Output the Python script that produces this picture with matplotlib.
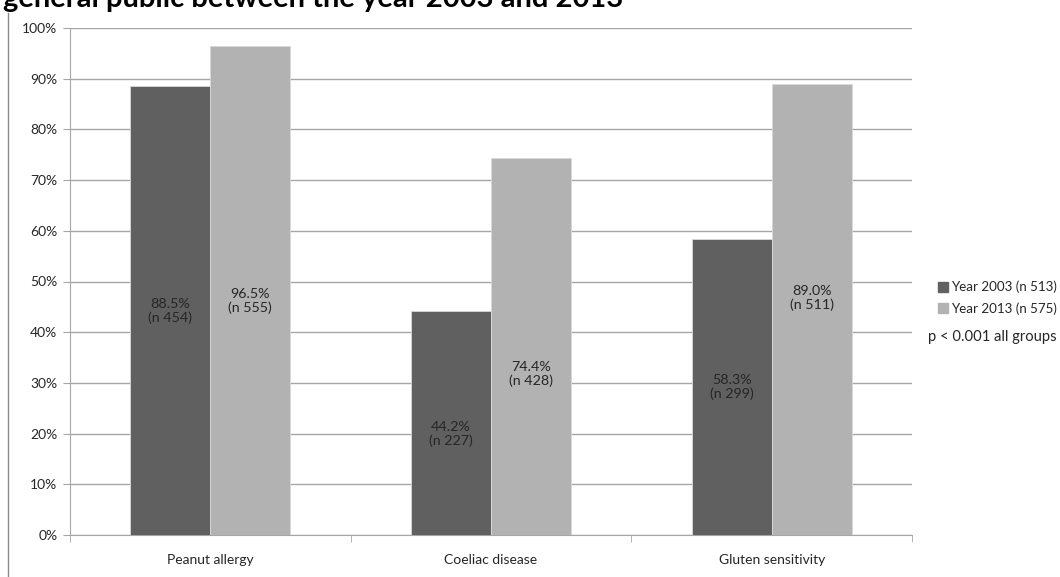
import matplotlib.pyplot as plt
import matplotlib.ticker as mticker
from matplotlib.lines import Line2D
import numpy as np

plt.rcParams["font.family"] = ["Lato", "DejaVu Sans"]

# --- Data ---
CATEGORIES = ["Peanut allergy", "Coeliac disease", "Gluten sensitivity"]
YEAR_2003 = [88.5, 44.2, 58.3]
YEAR_2013 = [96.5, 74.4, 89.0]
N_2003 = [454, 227, 299]
N_2013 = [555, 428, 511]
SERIES_LABELS = ["Year 2003 (n 513)", "Year 2013 (n 575)"]
NOTE = "p < 0.001 all groups"
TITLE = "general public between the year 2003 and 2013"

# label heights (data units) as placed in the original
LABEL_Y_2003 = [44.2, 19.9, 29.2]
LABEL_Y_2013 = [46.2, 31.8, 46.7]

DARK = "#606060"
LIGHT = "#b2b2b2"
GRID = "#a6a6a6"
TEXT = "#262626"

W, H = 1060, 577
fig = plt.figure(figsize=(W / 100, H / 100), dpi=100)
ax = fig.add_axes([70 / W, 1 - 535 / H, 842 / W, 507 / H])

x = np.arange(len(CATEGORIES))
width = 0.285
ax.bar(x - width / 2, YEAR_2003, width, color=DARK, edgecolor="#d9d9d9",
       linewidth=0.6, zorder=3)
ax.bar(x + width / 2, YEAR_2013, width, color=LIGHT, edgecolor="#d9d9d9",
       linewidth=0.6, zorder=3)

for i in range(len(CATEGORIES)):
    ax.text(x[i] - width / 2, LABEL_Y_2003[i], f"{YEAR_2003[i]:.1f}%\n(n {N_2003[i]})",
            ha="center", va="center", fontsize=10.3, color=TEXT, zorder=4,
            linespacing=1.15)
    ax.text(x[i] + width / 2, LABEL_Y_2013[i], f"{YEAR_2013[i]:.1f}%\n(n {N_2013[i]})",
            ha="center", va="center", fontsize=10.3, color=TEXT, zorder=4,
            linespacing=1.15)

ax.set_xlim(-0.5, len(CATEGORIES) - 0.5)
ax.set_ylim(0, 100)
ax.yaxis.set_major_locator(mticker.MultipleLocator(10))
ax.yaxis.set_major_formatter(mticker.FuncFormatter(lambda v, p: f"{v:.0f}%"))
ax.set_xticks(x)
ax.set_xticklabels(CATEGORIES)
ax.xaxis.set_minor_locator(mticker.FixedLocator(np.arange(-0.5, len(CATEGORIES), 1.0)))
ax.tick_params(axis="x", which="major", length=0, pad=14, labelsize=10, labelcolor=TEXT)
ax.tick_params(axis="x", which="minor", length=5, color=GRID, direction="out")
ax.tick_params(axis="y", length=5, color=GRID, labelsize=10, labelcolor=TEXT, pad=4)

ax.grid(axis="y", color=GRID, linewidth=1.0, zorder=0)
for side in ["top", "right"]:
    ax.spines[side].set_visible(False)
ax.spines["left"].set_color(GRID)
ax.spines["bottom"].set_color(GRID)

# legend
handles = [Line2D([], [], marker="s", linestyle="", markersize=7, color=c)
           for c in (DARK, LIGHT)]
fig.legend(handles, SERIES_LABELS, loc="upper left", bbox_to_anchor=(932 / W, 1 - 274 / H),
           frameon=False, fontsize=9.6, handlelength=0.6, handletextpad=0.3,
           labelspacing=0.7, borderpad=0, labelcolor=TEXT)
fig.text(928 / W, 1 - 337 / H, NOTE, fontsize=10.6, color=TEXT, va="center")

# clipped title and frame line
fig.text(3 / W, 1 - 7 / H, TITLE, fontsize=21, fontweight="bold", va="baseline")
fig.add_artist(Line2D([8 / W, 8 / W], [0, 1 - 13 / H], color="#8c8c8c", linewidth=1.0))

fig.savefig("out.png", dpi=100)
